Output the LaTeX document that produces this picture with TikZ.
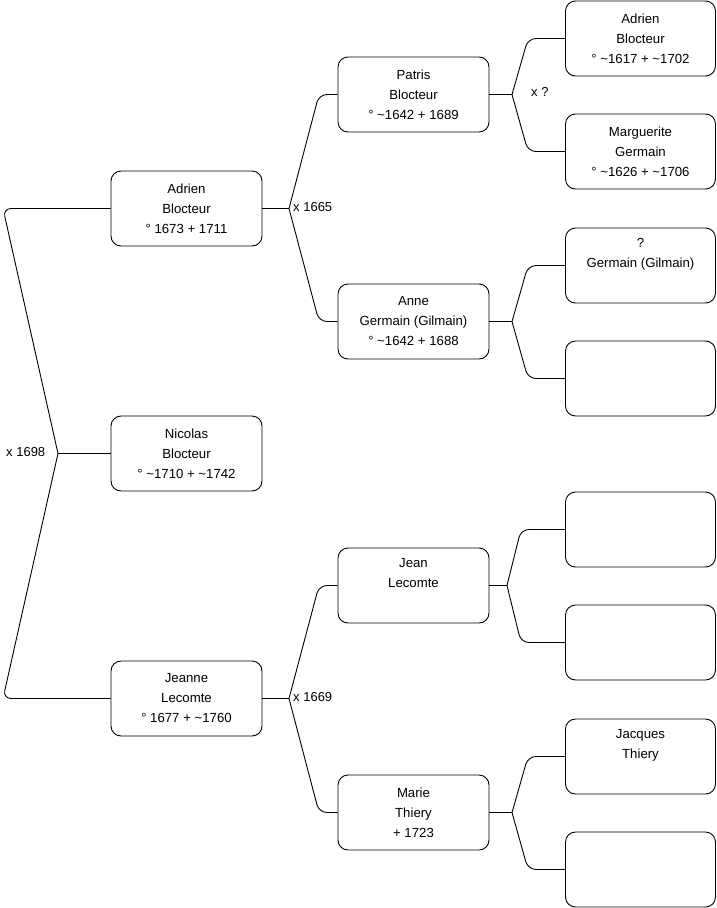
\documentclass[tikz,border=0pt]{standalone}
\usepackage{fontspec}
\setmainfont{Liberation Sans}
\begin{document}
\begin{tikzpicture}[x=1pt,y=-1pt,
  person/.style={draw=black, line width=0.9pt, rounded corners=10pt, minimum width=151pt, minimum height=75pt, inner sep=0pt, align=center, font=\fontsize{13.2}{20}\selectfont},
  link/.style={draw=black, line width=0.9pt},
  cornerlink/.style={link, rounded corners=8pt},
  marr/.style={anchor=west, inner sep=0pt, font=\fontsize{13}{15}\selectfont}]
\useasboundingbox (0,0) rectangle (716,908);
% column 1
\node[person] (adrien1) at (186.5,208.5) {Adrien\\Blocteur\\° 1673 + 1711};
\node[person] (nicolas) at (186.5,453.5) {Nicolas\\Blocteur\\° \textasciitilde1710 + \textasciitilde1742};
\node[person] (jeanne) at (186.5,698.5) {Jeanne\\Lecomte\\° 1677 + \textasciitilde1760};
% column 2
\node[person] (patris) at (413.5,94.5) {Patris\\Blocteur\\° \textasciitilde1642 + 1689};
\node[person] (anne) at (413.5,321.5) {Anne\\Germain (Gilmain)\\° \textasciitilde1642 + 1688};
\node[person] (jean) at (413.5,585.5) {Jean\\Lecomte\\\strut};
\node[person] (marie) at (413.5,812.5) {Marie\\Thiery\\+ 1723};
% column 3
\node[person, minimum width=150pt] (adrien3) at (640.5,38.5) {Adrien\\Blocteur\\° \textasciitilde1617 + \textasciitilde1702};
\node[person, minimum width=150pt] (marguerite) at (640.5,151.5) {Marguerite\\Germain\\° \textasciitilde1626 + \textasciitilde1706};
\node[person, minimum width=150pt] (germain) at (640.5,265.5) {?\\Germain (Gilmain)\\\strut};
\node[person, minimum width=150pt] (e1) at (640.5,378.5) {};
\node[person, minimum width=150pt] (e2) at (640.5,529.5) {};
\node[person, minimum width=150pt] (e3) at (640.5,642.5) {};
\node[person, minimum width=150pt] (jacques) at (640.5,756.5) {Jacques\\Thiery\\\strut};
\node[person, minimum width=150pt] (e4) at (640.5,869.5) {};
% vertices
\coordinate (v1) at (58,453.5);
\coordinate (v2) at (289,208.5);
\coordinate (v3) at (289,698.5);
\coordinate (v4) at (512,94.5);
\coordinate (v5) at (512,321.5);
\coordinate (v6) at (507,585.5);
\coordinate (v7) at (512,812.5);
% family x 1698
\draw[link] (nicolas.west) -- (v1);
\draw[cornerlink] (v1) -- (3,208.5) -- (adrien1.west);
\draw[cornerlink] (v1) -- (3,698.5) -- (jeanne.west);
% family x 1665
\draw[link] (adrien1.east) -- (v2);
\draw[cornerlink] (v2) -- (319,94.5) -- (patris.west);
\draw[cornerlink] (v2) -- (319,321.5) -- (anne.west);
% family x 1669
\draw[link] (jeanne.east) -- (v3);
\draw[cornerlink] (v3) -- (319,585.5) -- (jean.west);
\draw[cornerlink] (v3) -- (319,812.5) -- (marie.west);
% Patris parents
\draw[link] (patris.east) -- (v4);
\draw[cornerlink] (v4) -- (528,38.5) -- (adrien3.west);
\draw[cornerlink] (v4) -- (528,151.5) -- (marguerite.west);
% Anne parents
\draw[link] (anne.east) -- (v5);
\draw[cornerlink] (v5) -- (528,265.5) -- (germain.west);
\draw[cornerlink] (v5) -- (528,378.5) -- (e1.west);
% Jean parents
\draw[link] (jean.east) -- (v6);
\draw[cornerlink] (v6) -- (521,529.5) -- (e2.west);
\draw[cornerlink] (v6) -- (521,642.5) -- (e3.west);
% Marie parents
\draw[link] (marie.east) -- (v7);
\draw[cornerlink] (v7) -- (528,756.5) -- (jacques.west);
\draw[cornerlink] (v7) -- (528,869.5) -- (e4.west);
% marriage labels
\node[marr] (m1) at (6,452) {x 1698};
\node[marr] (m2) at (293,207) {x 1665};
\node[marr] (m3) at (531,92) {x ?};
\node[marr] (m4) at (293,697) {x 1669};
\end{tikzpicture}
\end{document}
